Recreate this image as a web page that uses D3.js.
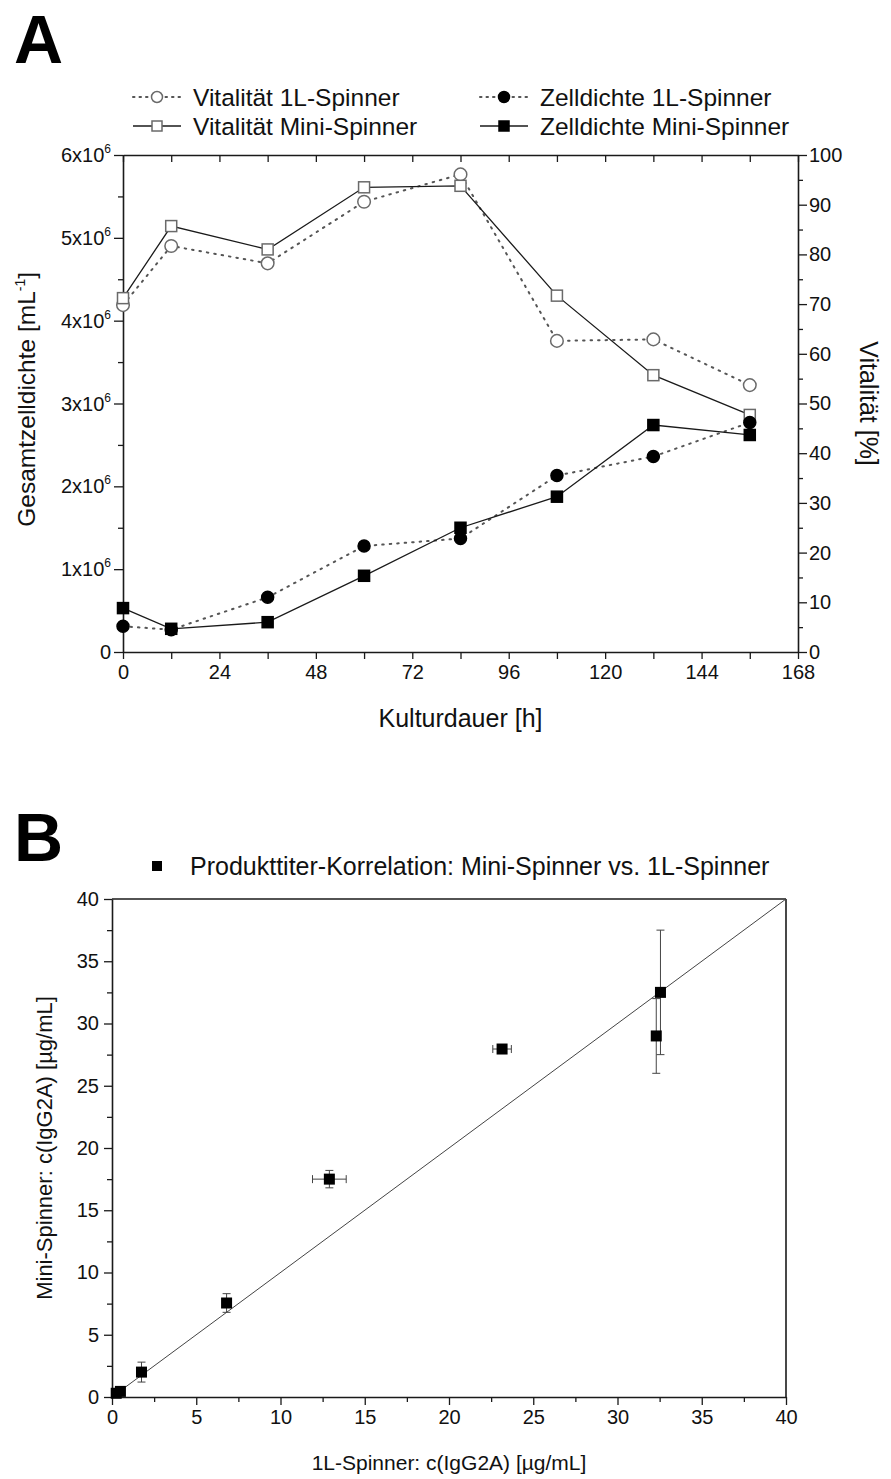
<!DOCTYPE html>
<html>
<head>
<meta charset="utf-8">
<script src="https://cdn.jsdelivr.net/npm/d3@7"></script>
<style>
  body { margin: 0; background: #fff; }
  svg { font-family: "Liberation Sans", Arial, sans-serif; }
</style>
</head>
<body>
<script>
// Panel A data
const hours = [0, 12, 36, 60, 84, 108, 132, 156];
const vital1L = [69.8, 81.7, 78.2, 90.6, 96.1, 62.6, 62.9, 53.7];
const vitalMini = [71.2, 85.7, 81.0, 93.5, 93.8, 71.7, 55.7, 47.7];
// cell density in 10^6 / mL
const dens1L = [0.31, 0.27, 0.66, 1.28, 1.37, 2.13, 2.36, 2.77];
const densMini = [0.53, 0.28, 0.36, 0.92, 1.50, 1.875, 2.74, 2.62];
const legendA = ["Vitalität 1L-Spinner", "Vitalität Mini-Spinner", "Zelldichte 1L-Spinner", "Zelldichte Mini-Spinner"];

// Panel B data (µg/mL)
const titer1L = [0.25, 0.5, 1.75, 6.8, 12.9, 23.15, 32.3, 32.55];
const titerMini = [0.3, 0.45, 2.0, 7.55, 17.5, 27.95, 29.0, 32.5];
const err1L = [0, 0, 0, 0, 1.0, 0.55, 0, 0];
const errMini = [0, 0, 0.8, 0.75, 0.7, 0.3, 3.0, 5.0];
const legendB = "Produkttiter-Korrelation: Mini-Spinner vs. 1L-Spinner";

const svg = d3.select("body").append("svg").attr("width", 891).attr("height", 1479);

const lightGray = "#6a6a6a";
const dark = "#1a1a1a";

// ---------- Panel A ----------
const A = { left: 123, right: 798, top: 155, bottom: 652 };
const xA = d3.scaleLinear().domain([0, 168]).range([A.left, A.right]);
const yDens = d3.scaleLinear().domain([0, 6]).range([A.bottom, A.top]);
const yVit = d3.scaleLinear().domain([0, 100]).range([A.bottom, A.top]);

svg.append("text").attr("x", 14).attr("y", 63).attr("font-size", 68).attr("font-weight", "bold").text("A");

function styleAxis(g) {
  g.selectAll(".domain").attr("stroke", dark).attr("stroke-width", 1.6);
  g.selectAll(".tick line").attr("stroke", dark).attr("stroke-width", 1.3);
  g.selectAll(".tick text").attr("fill", "#111").attr("font-size", 20).attr("font-family", "Liberation Sans, Arial, sans-serif");
}

// bottom axis
const gxA = svg.append("g").attr("transform", `translate(0,${A.bottom})`)
  .call(d3.axisBottom(xA).tickValues(d3.range(0, 169, 12))
    .tickFormat(d => d % 24 === 0 ? d : "").tickSize(7).tickSizeOuter(0).tickPadding(6));
styleAxis(gxA);
// top axis (inward ticks)
const gtA = svg.append("g").attr("transform", `translate(0,${A.top})`)
  .call(d3.axisBottom(xA).tickValues(d3.range(0, 169, 12)).tickFormat("").tickSize(7).tickSizeOuter(0));
styleAxis(gtA);

// left axis
const gyA = svg.append("g").attr("transform", `translate(${A.left},0)`)
  .call(d3.axisLeft(yDens).tickValues(d3.range(0, 6.01, 0.5)).tickFormat("").tickSizeOuter(0)
    .tickSize(0));
styleAxis(gyA);
gyA.selectAll(".tick line").attr("x2", d => Number.isInteger(d) ? -9 : -5);
const leftLabels = svg.append("g");
d3.range(0, 7).forEach(v => {
  const t = leftLabels.append("text").attr("x", A.left - 12).attr("y", yDens(v) + 7)
    .attr("text-anchor", "end").attr("font-size", 20).attr("fill", "#111");
  if (v === 0) { t.text("0"); }
  else {
    t.append("tspan").text(`${v}x10`);
    t.append("tspan").attr("font-size", 12).attr("dy", -9).text("6");
  }
});

// right axis
const grA = svg.append("g").attr("transform", `translate(${A.right},0)`)
  .call(d3.axisRight(yVit).tickValues(d3.range(0, 101, 5))
    .tickFormat(d => d % 10 === 0 ? d : "").tickSize(0).tickPadding(11).tickSizeOuter(0));
styleAxis(grA);
grA.selectAll(".tick line").attr("x2", d => d % 10 === 0 ? 9 : 5);

// axis titles
svg.append("text").attr("x", xA(84)).attr("y", 727).attr("text-anchor", "middle")
  .attr("font-size", 25).attr("fill", "#111").text("Kulturdauer [h]");
const ylabA = svg.append("text").attr("transform", `translate(35,${yDens(3.05)}) rotate(-90)`)
  .attr("text-anchor", "middle").attr("font-size", 24.5).attr("fill", "#111");
ylabA.append("tspan").text("Gesamtzelldichte [mL");
ylabA.append("tspan").attr("font-size", 14).attr("dy", -10).text("-1");
ylabA.append("tspan").attr("dy", 10).text("]");
svg.append("text").attr("transform", `translate(860,${yVit(50)}) rotate(90)`)
  .attr("text-anchor", "middle").attr("font-size", 25).attr("fill", "#111").text("Vitalität [%]");

// lines
const lineOf = (yScale, vals) => d3.line().x((d, i) => xA(hours[i])).y(d => yScale(d))(vals);
const dotted = "1.5,6";
svg.append("path").attr("d", lineOf(yVit, vital1L)).attr("fill", "none")
  .attr("stroke", "#555").attr("stroke-width", 2).attr("stroke-dasharray", dotted).attr("stroke-linecap", "round");
svg.append("path").attr("d", lineOf(yVit, vitalMini)).attr("fill", "none")
  .attr("stroke", dark).attr("stroke-width", 1.3);
svg.append("path").attr("d", lineOf(yDens, dens1L)).attr("fill", "none")
  .attr("stroke", "#555").attr("stroke-width", 2).attr("stroke-dasharray", dotted).attr("stroke-linecap", "round");
svg.append("path").attr("d", lineOf(yDens, densMini)).attr("fill", "none")
  .attr("stroke", dark).attr("stroke-width", 1.3);

// markers
function circles(vals, yScale, filled) {
  svg.append("g").selectAll("circle").data(vals).join("circle")
    .attr("cx", (d, i) => xA(hours[i])).attr("cy", d => yScale(d)).attr("r", filled ? 6 : 6.3)
    .attr("fill", filled ? "#000" : "#fff").attr("stroke", filled ? "#000" : lightGray).attr("stroke-width", 1.5);
}
function squares(vals, yScale, filled) {
  const s = 11;
  svg.append("g").selectAll("rect").data(vals).join("rect")
    .attr("x", (d, i) => xA(hours[i]) - s / 2).attr("y", d => yScale(d) - s / 2)
    .attr("width", s).attr("height", s)
    .attr("fill", filled ? "#000" : "#fff").attr("stroke", filled ? "#000" : lightGray).attr("stroke-width", 1.5);
}
circles(vital1L, yVit, false);
squares(vitalMini, yVit, false);
circles(dens1L, yDens, true);
squares(densMini, yDens, true);

// legend A
const legPos = [[133, 97], [133, 126], [480, 97], [480, 126]];
legendA.forEach((label, i) => {
  const [lx, ly] = legPos[i];
  const g = svg.append("g").attr("transform", `translate(${lx},${ly})`);
  const isDotted = i === 0 || i === 2;
  g.append("line").attr("x1", 0).attr("x2", 48).attr("y1", 0).attr("y2", 0)
    .attr("stroke", isDotted ? "#555" : dark).attr("stroke-width", isDotted ? 2 : 1.3)
    .attr("stroke-dasharray", isDotted ? "1.5,5" : null).attr("stroke-linecap", isDotted ? "round" : "butt");
  const filled = i >= 2;
  if (i % 2 === 0) {
    g.append("circle").attr("cx", 24).attr("cy", 0).attr("r", 5.5)
      .attr("fill", filled ? "#000" : "#fff").attr("stroke", filled ? "#000" : lightGray).attr("stroke-width", 1.5);
  } else {
    g.append("rect").attr("x", 19).attr("y", -5).attr("width", 10).attr("height", 10)
      .attr("fill", filled ? "#000" : "#fff").attr("stroke", filled ? "#000" : lightGray).attr("stroke-width", 1.5);
  }
  g.append("text").attr("x", 60).attr("y", 9).attr("font-size", 24.5).attr("fill", "#111").text(label);
});

// ---------- Panel B ----------
const B = { left: 112, right: 786, top: 899, bottom: 1397 };
const xB = d3.scaleLinear().domain([0, 40]).range([B.left, B.right]);
const yB = d3.scaleLinear().domain([0, 40]).range([B.bottom, B.top]);

svg.append("text").attr("x", 14).attr("y", 861).attr("font-size", 68).attr("font-weight", "bold").text("B");

const gxB = svg.append("g").attr("transform", `translate(0,${B.bottom})`)
  .call(d3.axisBottom(xB).tickValues(d3.range(0, 40.1, 2.5))
    .tickFormat(d => d % 5 === 0 ? d : "").tickSize(0).tickPadding(13).tickSizeOuter(0));
styleAxis(gxB);
gxB.selectAll(".tick line").attr("y2", d => d % 5 === 0 ? 8 : 5);
const gyB = svg.append("g").attr("transform", `translate(${B.left},0)`)
  .call(d3.axisLeft(yB).tickValues(d3.range(0, 40.1, 2.5))
    .tickFormat(d => d % 5 === 0 ? d : "").tickSize(0).tickPadding(13).tickSizeOuter(0));
styleAxis(gyB);
gyB.selectAll(".tick line").attr("x2", d => d % 5 === 0 ? -8 : -5);
// top and right frame
svg.append("line").attr("x1", B.left).attr("x2", B.right).attr("y1", B.top).attr("y2", B.top)
  .attr("stroke", dark).attr("stroke-width", 1.6);
svg.append("line").attr("x1", B.right).attr("x2", B.right).attr("y1", B.top).attr("y2", B.bottom)
  .attr("stroke", dark).attr("stroke-width", 1.6);

// diagonal
svg.append("line").attr("x1", xB(0)).attr("y1", yB(0)).attr("x2", xB(40)).attr("y2", yB(40))
  .attr("stroke", "#444").attr("stroke-width", 1);

// error bars
const pts = titer1L.map((x, i) => ({ x, y: titerMini[i], ex: err1L[i], ey: errMini[i] }));
const eg = svg.append("g").attr("stroke", "#444").attr("stroke-width", 1);
pts.forEach(p => {
  const cap = 4;
  if (p.ey > 0) {
    eg.append("line").attr("x1", xB(p.x)).attr("x2", xB(p.x)).attr("y1", yB(p.y - p.ey)).attr("y2", yB(p.y + p.ey));
    [p.y - p.ey, p.y + p.ey].forEach(v => eg.append("line")
      .attr("x1", xB(p.x) - cap).attr("x2", xB(p.x) + cap).attr("y1", yB(v)).attr("y2", yB(v)));
  }
  if (p.ex > 0) {
    eg.append("line").attr("y1", yB(p.y)).attr("y2", yB(p.y)).attr("x1", xB(p.x - p.ex)).attr("x2", xB(p.x + p.ex));
    [p.x - p.ex, p.x + p.ex].forEach(v => eg.append("line")
      .attr("y1", yB(p.y) - cap).attr("y2", yB(p.y) + cap).attr("x1", xB(v)).attr("x2", xB(v)));
  }
});
svg.append("g").selectAll("rect").data(pts).join("rect")
  .attr("x", d => xB(d.x) - 5.5).attr("y", d => yB(d.y) - 5.5)
  .attr("width", 11).attr("height", 11).attr("fill", "#000");

// legend B
svg.append("rect").attr("x", 152).attr("y", 861).attr("width", 10).attr("height", 10).attr("fill", "#000");
svg.append("text").attr("x", 190).attr("y", 875).attr("font-size", 25).attr("fill", "#111").text(legendB);

// axis titles B
svg.append("text").attr("x", xB(20)).attr("y", 1470).attr("text-anchor", "middle")
  .attr("font-size", 21).attr("fill", "#111").text("1L-Spinner: c(IgG2A) [µg/mL]");
svg.append("text").attr("transform", `translate(52,${yB(20)}) rotate(-90)`).attr("text-anchor", "middle")
  .attr("font-size", 22).attr("fill", "#111").text("Mini-Spinner: c(IgG2A) [µg/mL]");
</script>
</body>
</html>
